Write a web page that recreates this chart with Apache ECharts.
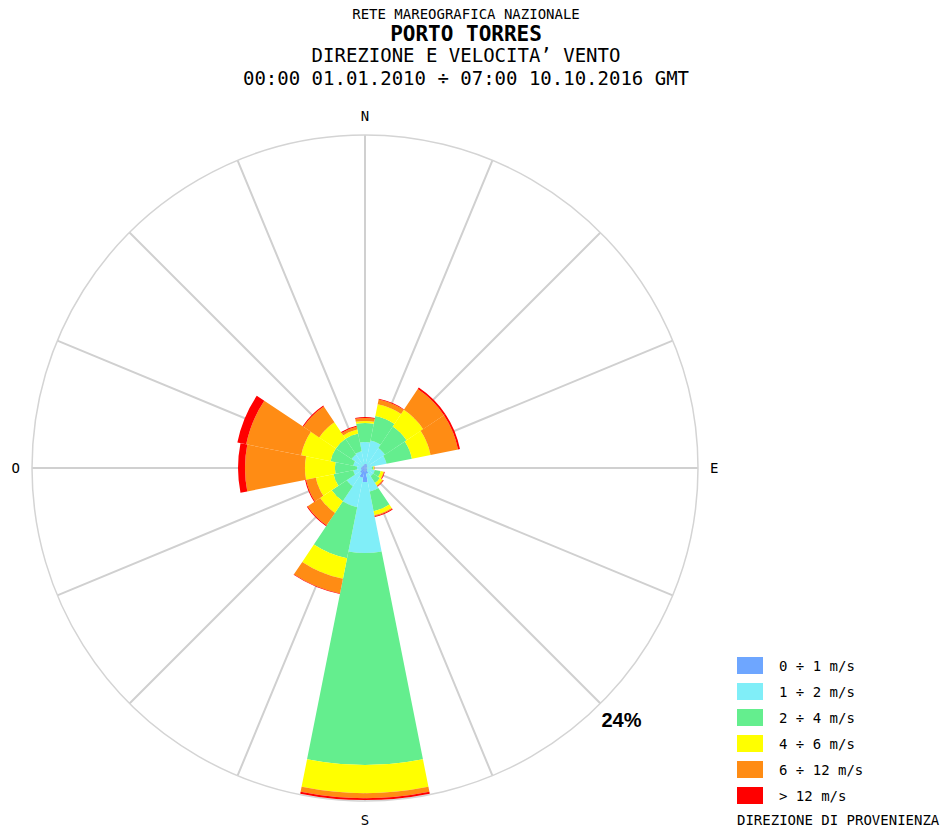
<!DOCTYPE html>
<html>
<head>
<meta charset="utf-8">
<title>Porto Torres - direzione e velocità vento</title>
<script src="https://cdn.jsdelivr.net/npm/echarts@6/dist/echarts.min.js"></script>
<style>
  html, body { margin: 0; padding: 0; background: #ffffff; }
  #chart { width: 948px; height: 831px; }
</style>
</head>
<body>
<div id="chart"></div>
<script>
// 16 compass sectors, clockwise from north
const directions = ['N', 'NNE', 'NE', 'ENE', 'E', 'ESE', 'SE', 'SSE',
                    'S', 'SSW', 'SW', 'WSW', 'W', 'WNW', 'NW', 'NNW'];

// speed classes (legend labels) and their colours
const speedClasses = ['0 ÷ 1 m/s', '1 ÷ 2 m/s', '2 ÷ 4 m/s', '4 ÷ 6 m/s', '6 ÷ 12 m/s', '> 12 m/s'];
const classColors = ['#6EA6FF', '#80EEF8', '#64EE8E', '#FFFF00', '#FF8C14', '#FF0000'];

// frequency (%) of each speed class per direction
const speed0to1  = [0.29, 0.29, 0.22, 0.14, 0.14, 0.14, 0.22, 0.43, 1.01, 0.72, 0.43, 0.29, 0.29, 0.22, 0.22, 0.22];
const speed1to2  = [1.59, 1.73, 1.51, 1.44, 0.36, 0.58, 0.50, 1.30, 5.12, 2.16, 1.15, 0.58, 0.29, 0.65, 0.94, 1.01];
const speed2to4  = [1.37, 1.80, 1.87, 1.87, 0.11, 0.43, 0.58, 1.44, 15.28, 3.75, 1.30, 1.44, 1.59, 1.66, 1.37, 1.30];
const speed4to6  = [0.14, 0.86, 1.44, 1.37, 0.04, 0.22, 0.22, 0.29, 2.02, 1.51, 1.01, 1.30, 2.16, 2.16, 1.44, 0.29];
const speed6to12 = [0.22, 0.36, 1.80, 2.02, 0.04, 0.04, 0.07, 0.07, 0.36, 1.08, 1.08, 0.72, 4.32, 4.04, 1.37, 0.22];
const speedOver12 = [0.07, 0.04, 0.14, 0.14, 0.00, 0.04, 0.04, 0.07, 0.14, 0.04, 0.07, 0.07, 0.50, 0.65, 0.07, 0.07];

const classValues = [speed0to1, speed1to2, speed2to4, speed4to6, speed6to12, speedOver12];

// compass tick labels (Italian: O = ovest) and outer ring value
const compassLabels = { 0: 'N', 90: 'E', 180: 'S', 270: 'O' };
const radiusMax = 24;
const ringLabelAngle = 135;

const titleLines = [
  'RETE MAREOGRAFICA NAZIONALE',
  'PORTO TORRES',
  'DIREZIONE E VELOCITA\u2019 VENTO',
  '00:00 01.01.2010 \u00f7 07:00 10.10.2016 GMT'
];
const footNote = 'DIREZIONE DI PROVENIENZA';

const MONO = '"DejaVu Sans Mono", "Liberation Mono", monospace';
const CENTER = [365, 468];
const RADIUS = 333;

const chart = echarts.init(document.getElementById('chart'), null, { renderer: 'svg' });

const series = speedClasses.map((name, i) => ({
  name: name,
  type: 'bar',
  coordinateSystem: 'polar',
  polarIndex: 0,
  stack: 'rose',
  barCategoryGap: '0%',
  data: classValues[i],
  itemStyle: { color: classColors[i] },
  emphasis: { disabled: true },
  z: 3
}));

const option = {
  backgroundColor: '#ffffff',
  animation: false,
  polar: [
    { center: CENTER, radius: RADIUS },
    { center: CENTER, radius: RADIUS }
  ],
  angleAxis: [
    {
      // sector bands: each direction centred on its compass line
      polarIndex: 0,
      type: 'category',
      data: directions,
      startAngle: 90 + 180 / directions.length,
      clockwise: true,
      axisLine: { show: false },
      axisTick: { show: false },
      axisLabel: { show: false },
      splitLine: { show: false }
    },
    {
      // compass spokes and outer ring
      polarIndex: 1,
      type: 'value',
      min: 0,
      max: 360,
      interval: 360 / directions.length,
      startAngle: 90,
      clockwise: true,
      axisLine: { show: true, lineStyle: { color: '#d4d4d4', width: 1.5 } },
      axisTick: { show: false },
      splitLine: { show: true, lineStyle: { color: '#d0d0d0', width: 2 } },
      axisLabel: {
        show: true,
        margin: 12,
        color: '#000000',
        fontFamily: MONO,
        fontSize: 14,
        formatter: v => compassLabels[v] || ''
      },
      z: 1
    }
  ],
  radiusAxis: [
    { polarIndex: 0, type: 'value', min: 0, max: radiusMax, show: false },
    { polarIndex: 1, type: 'value', min: 0, max: radiusMax, show: false }
  ],
  legend: {
    orient: 'vertical',
    left: 737,
    top: 657,
    padding: 0,
    itemWidth: 26,
    itemHeight: 17,
    itemGap: 9,
    icon: 'rect',
    selectedMode: false,
    data: speedClasses,
    textStyle: {
      color: '#000000',
      fontFamily: MONO,
      fontSize: 14,
      padding: [0, 0, 0, 11]
    }
  },
  series: series,
  graphic: []
};

chart.setOption(option);

// heading lines, ring value and footnote
const ringPoint = chart.convertToPixel({ polarIndex: 1 }, [radiusMax, ringLabelAngle]);
const headingStyles = [
  { y: 14, size: 14, weight: 'normal' },
  { y: 34, size: 21, weight: 'bold' },
  { y: 55, size: 19, weight: 'normal' },
  { y: 78, size: 19, weight: 'normal' }
];
const graphics = titleLines.map((t, i) => ({
  type: 'text',
  style: {
    text: t,
    x: 466,
    y: headingStyles[i].y,
    textAlign: 'center',
    textVerticalAlign: 'middle',
    fill: '#000000',
    font: headingStyles[i].weight + ' ' + headingStyles[i].size + 'px ' + MONO
  }
}));
graphics.push({
  type: 'text',
  style: {
    text: radiusMax + '%',
    x: ringPoint[0] + 21,
    y: ringPoint[1] + 17,
    textAlign: 'center',
    textVerticalAlign: 'middle',
    fill: '#000000',
    font: 'bold 20px "Liberation Sans", Arial, sans-serif'
  }
});
graphics.push({
  type: 'text',
  style: {
    text: footNote,
    x: 737,
    y: 820,
    textAlign: 'left',
    textVerticalAlign: 'middle',
    fill: '#000000',
    font: '14px ' + MONO
  }
});
chart.setOption({ graphic: graphics });
</script>
</body>
</html>
